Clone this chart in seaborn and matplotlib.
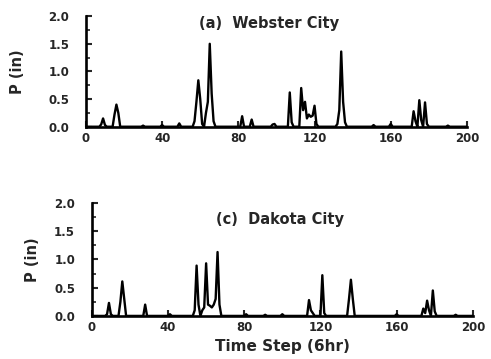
import numpy as np
import pandas as pd
import matplotlib
matplotlib.use("Agg")
import matplotlib.pyplot as plt
import seaborn as sns

# Sparse precipitation events (time step, inches); all other steps are 0
web_steps = [8, 9, 10, 15, 16, 17, 30, 40, 49, 57, 58, 59, 60, 61, 63, 64, 65, 66, 67,
             82, 87, 98, 99, 107, 108, 113, 114, 115, 116, 117, 118, 119, 120, 121,
             132, 133, 134, 135, 136, 151, 160, 172, 173, 175, 176, 178, 179, 190]
web_vals = [0.04, 0.15, 0.03, 0.22, 0.40, 0.25, 0.02, 0.03, 0.06, 0.10, 0.45, 0.84, 0.50, 0.05,
            0.25, 0.45, 1.50, 0.60, 0.10,
            0.19, 0.13, 0.04, 0.05, 0.62, 0.08, 0.70, 0.30, 0.45, 0.15, 0.22, 0.18, 0.20, 0.38, 0.05,
            0.05, 0.30, 1.36, 0.45, 0.08, 0.03, 0.05, 0.28, 0.10, 0.48, 0.12, 0.44, 0.05, 0.02]

dak_steps = [8, 9, 10, 15, 16, 17, 28, 41, 54, 55, 56, 58, 59, 60, 61, 62, 63, 64, 65, 66, 67,
             81, 91, 100, 114, 115, 116, 121, 122, 135, 136, 137, 160,
             174, 175, 176, 177, 179, 180, 191]
dak_vals = [0.03, 0.23, 0.03, 0.25, 0.61, 0.30, 0.20, 0.03, 0.10, 0.89, 0.20, 0.10, 0.15, 0.93,
            0.20, 0.18, 0.15, 0.20, 0.30, 1.13, 0.20,
            0.03, 0.02, 0.03, 0.28, 0.10, 0.05, 0.72, 0.05, 0.30, 0.64, 0.30, 0.03,
            0.13, 0.05, 0.27, 0.10, 0.45, 0.08, 0.02]

x_ticks = [0, 40, 80, 120, 160, 200]
y_ticks = [0.0, 0.5, 1.0, 1.5, 2.0]
y_ticklabels = ["0.0", "0.5", "1.0", "1.5", "2.0"]
titles = ["(a)  Webster City", "(c)  Dakota City"]


def full_series(steps, vals):
    t = np.arange(0, 201)
    p = np.zeros_like(t, dtype=float)
    p[np.array(steps)] = vals
    return pd.DataFrame({"t": t, "p": p})


sns.set_style("ticks")
plt.rcParams["font.family"] = ["DejaVu Sans"]
plt.rcParams["font.weight"] = "bold"

fig = plt.figure(figsize=(4.91, 3.59), dpi=100)
ax1 = fig.add_axes([0.175, 0.647, 0.776, 0.308])
ax2 = fig.add_axes([0.187, 0.120, 0.776, 0.315])

data = [full_series(web_steps, web_vals), full_series(dak_steps, dak_vals)]
title_pos = [(96, 1.87), (99, 1.70)]
ylabel_pad = [17, 10]

for ax, df, title, (tx, ty), lp in zip([ax1, ax2], data, titles, title_pos, ylabel_pad):
    sns.lineplot(data=df, x="t", y="p", ax=ax, color="black", linewidth=1.7)
    ax.set_xlim(0, 200)
    ax.set_ylim(0, 2.0)
    ax.set_xticks(x_ticks)
    ax.set_xticklabels([str(v) for v in x_ticks], fontsize=8.5, fontweight="bold")
    ax.set_yticks(y_ticks)
    ax.set_yticklabels(y_ticklabels, fontsize=8.5, fontweight="bold")
    ax.set_yticks([0.25, 0.75, 1.25, 1.75], minor=True)
    ax.tick_params(axis="x", which="major", direction="in", length=4, width=1.5, pad=4)
    ax.tick_params(axis="y", which="major", direction="in", length=4, width=1.5, pad=12)
    ax.tick_params(axis="y", which="minor", direction="in", length=3, width=1.2)
    for s in ["top", "right"]:
        ax.spines[s].set_visible(False)
    for s in ["left", "bottom"]:
        ax.spines[s].set_linewidth(1.9)
        ax.spines[s].set_color("black")
    ax.set_ylabel("P (in)", fontsize=10.5, fontweight="bold", labelpad=lp)
    ax.text(tx, ty, title, ha="center", va="center", fontsize=10.5, fontweight="bold")
    ax.set_xlabel("")

ax2.set_xlabel("Time Step (6hr)", fontsize=11, fontweight="bold", labelpad=3)

fig.savefig("out.png", dpi=100, facecolor="white")
